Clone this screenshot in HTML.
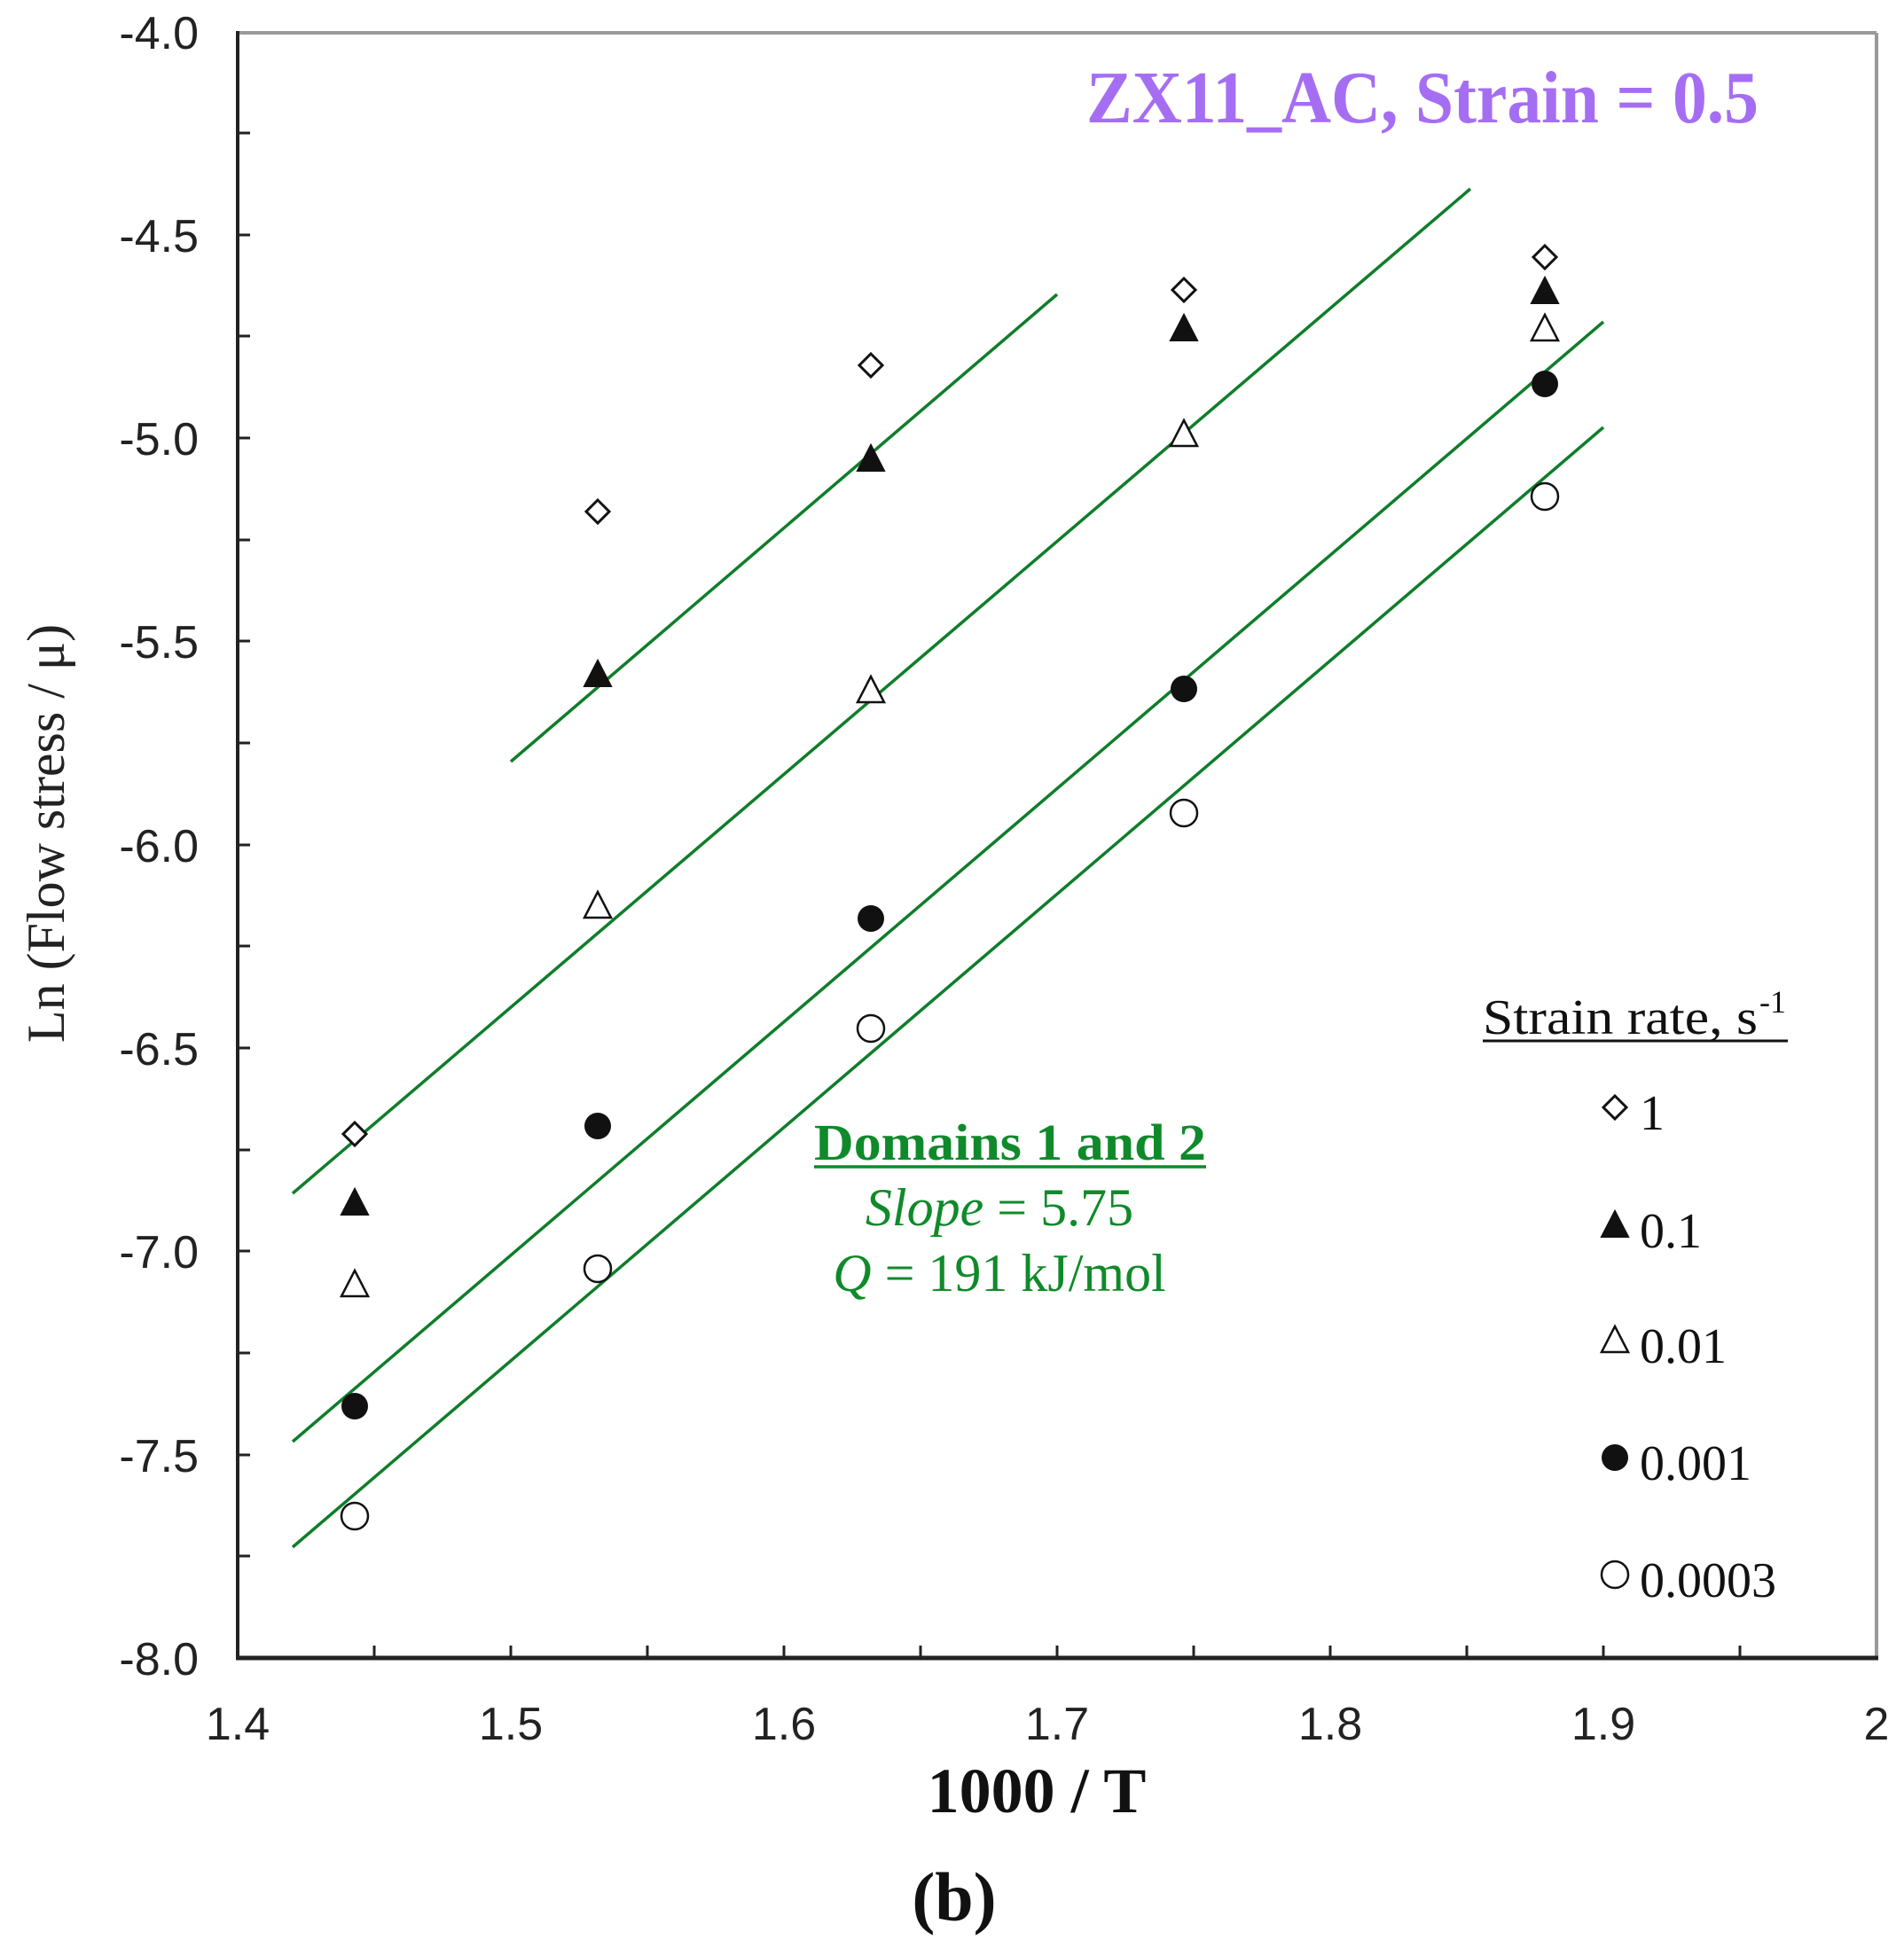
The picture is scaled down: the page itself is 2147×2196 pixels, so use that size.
<!DOCTYPE html>
<html><head><meta charset="utf-8"><style>html,body{margin:0;padding:0;background:#fff}</style></head>
<body>
<svg width="2147" height="2191" viewBox="0 0 2147 2191" xmlns="http://www.w3.org/2000/svg">
<rect width="2147" height="2191" fill="#fff"/>
<line x1="268" y1="37" x2="2116" y2="37" stroke="#999" stroke-width="4"/>
<line x1="2116" y1="37" x2="2116" y2="1870" stroke="#999" stroke-width="4"/>
<line x1="268" y1="35" x2="268" y2="1872" stroke="#222" stroke-width="4"/>
<line x1="266" y1="1870" x2="2118" y2="1870" stroke="#222" stroke-width="5"/>
<g stroke="#222" stroke-width="3">
<line x1="268" y1="150" x2="282" y2="150"/><line x1="268" y1="265" x2="282" y2="265"/>
<line x1="268" y1="379" x2="282" y2="379"/><line x1="268" y1="494" x2="282" y2="494"/>
<line x1="268" y1="609" x2="282" y2="609"/><line x1="268" y1="723" x2="282" y2="723"/>
<line x1="268" y1="838" x2="282" y2="838"/><line x1="268" y1="953" x2="282" y2="953"/>
<line x1="268" y1="1067" x2="282" y2="1067"/><line x1="268" y1="1182" x2="282" y2="1182"/>
<line x1="268" y1="1297" x2="282" y2="1297"/><line x1="268" y1="1411" x2="282" y2="1411"/>
<line x1="268" y1="1526" x2="282" y2="1526"/><line x1="268" y1="1641" x2="282" y2="1641"/>
<line x1="268" y1="1755" x2="282" y2="1755"/>
<line x1="422" y1="1870" x2="422" y2="1856"/><line x1="576" y1="1870" x2="576" y2="1856"/>
<line x1="730" y1="1870" x2="730" y2="1856"/><line x1="884" y1="1870" x2="884" y2="1856"/>
<line x1="1038" y1="1870" x2="1038" y2="1856"/><line x1="1192" y1="1870" x2="1192" y2="1856"/>
<line x1="1346" y1="1870" x2="1346" y2="1856"/><line x1="1500" y1="1870" x2="1500" y2="1856"/>
<line x1="1654" y1="1870" x2="1654" y2="1856"/><line x1="1808" y1="1870" x2="1808" y2="1856"/>
<line x1="1962" y1="1870" x2="1962" y2="1856"/>
</g>
<g font-family="Liberation Sans, sans-serif" font-size="52" fill="#222" text-anchor="end">
<text x="224" y="55">-4.0</text><text x="224" y="284">-4.5</text><text x="224" y="513">-5.0</text>
<text x="224" y="742">-5.5</text><text x="224" y="972">-6.0</text><text x="224" y="1201">-6.5</text>
<text x="224" y="1430">-7.0</text><text x="224" y="1660">-7.5</text><text x="224" y="1889">-8.0</text>
</g>
<g font-family="Liberation Sans, sans-serif" font-size="52" fill="#222" text-anchor="middle">
<text x="268" y="1962">1.4</text><text x="576" y="1962">1.5</text><text x="884" y="1962">1.6</text>
<text x="1192" y="1962">1.7</text><text x="1500" y="1962">1.8</text><text x="1808" y="1962">1.9</text>
<text x="2116" y="1962">2</text>
</g>
<text x="1169" y="2044" font-family="Liberation Serif, serif" font-weight="bold" font-size="72" text-anchor="middle" fill="#111">1000 / T</text>
<text x="1076" y="2166" font-family="Liberation Serif, serif" font-weight="bold" font-size="78" text-anchor="middle" fill="#111">(b)</text>
<text transform="translate(72,940) rotate(-90)" font-family="Liberation Serif, serif" font-size="60" text-anchor="middle" fill="#222">Ln (Flow stress / μ)</text>
<text x="1604" y="138" font-family="Liberation Serif, serif" font-weight="bold" font-size="84" text-anchor="middle" fill="#a56ef2" textLength="758" lengthAdjust="spacingAndGlyphs">ZX11_AC, Strain = 0.5</text>
<g stroke="#0f7d2a" stroke-width="3.5">
<line x1="576" y1="859" x2="1192" y2="332"/>
<line x1="330" y1="1346" x2="1658" y2="213"/>
<line x1="330" y1="1626" x2="1808" y2="363"/>
<line x1="330" y1="1745" x2="1808" y2="482"/>
</g>
<g font-family="Liberation Serif, serif" fill="#0f8a2a" text-anchor="middle">
<text x="1139" y="1308" font-size="58" font-weight="bold" textLength="442" lengthAdjust="spacingAndGlyphs">Domains 1 and 2</text>
<line x1="918" y1="1316" x2="1360" y2="1316" stroke="#0f8a2a" stroke-width="3.5"/>
<text x="1127" y="1382" font-size="60"><tspan font-style="italic">Slope</tspan> = 5.75</text>
<text x="1127" y="1456" font-size="60"><tspan font-style="italic">Q</tspan> = 191 kJ/mol</text>
</g>
<defs>
<path id="dia" d="M0,-13 L13,0 L0,13 L-13,0 Z" fill="#fff" stroke="#111" stroke-width="3"/>
<path id="ftri" d="M0,-16 L15,13 L-15,13 Z" fill="#111" stroke="#111" stroke-width="2"/>
<path id="otri" d="M0,-16 L15,13 L-15,13 Z" fill="#fff" stroke="#111" stroke-width="2.5"/>
<circle id="fcir" r="15" fill="#111"/>
<circle id="ocir" r="15" fill="#fff" stroke="#111" stroke-width="2.5"/>
</defs>
<use href="#dia" x="400" y="1279"/><use href="#dia" x="674" y="577"/><use href="#dia" x="982" y="412"/><use href="#dia" x="1335" y="327"/><use href="#dia" x="1742" y="290"/>
<use href="#ftri" x="400" y="1357"/><use href="#ftri" x="674" y="761"/><use href="#ftri" x="982" y="518"/><use href="#ftri" x="1335" y="371"/><use href="#ftri" x="1742" y="329"/>
<use href="#otri" x="400" y="1449"/><use href="#otri" x="674" y="1022"/><use href="#otri" x="982" y="779"/><use href="#otri" x="1335" y="490"/><use href="#otri" x="1742" y="371"/>
<use href="#fcir" x="400" y="1586"/><use href="#fcir" x="674" y="1270"/><use href="#fcir" x="982" y="1036"/><use href="#fcir" x="1335" y="777"/><use href="#fcir" x="1742" y="433"/>
<use href="#ocir" x="400" y="1710"/><use href="#ocir" x="674" y="1431"/><use href="#ocir" x="982" y="1160"/><use href="#ocir" x="1335" y="917"/><use href="#ocir" x="1742" y="560"/>
<g font-family="Liberation Serif, serif" font-size="56" fill="#111">
<text x="1672" y="1166" textLength="310" lengthAdjust="spacingAndGlyphs">Strain rate, s</text>
<text x="1984" y="1142" font-size="36">-1</text>
<line x1="1672" y1="1174" x2="2016" y2="1174" stroke="#111" stroke-width="3"/>
<text x="1849" y="1274">1</text>
<text x="1849" y="1407">0.1</text>
<text x="1849" y="1537">0.01</text>
<text x="1849" y="1669">0.001</text>
<text x="1849" y="1801">0.0003</text>
</g>
<use href="#dia" x="1821" y="1249"/>
<use href="#ftri" x="1821" y="1382"/>
<use href="#otri" x="1821" y="1512"/>
<use href="#fcir" x="1821" y="1644"/>
<use href="#ocir" x="1821" y="1776"/>
</svg>
</body></html>
